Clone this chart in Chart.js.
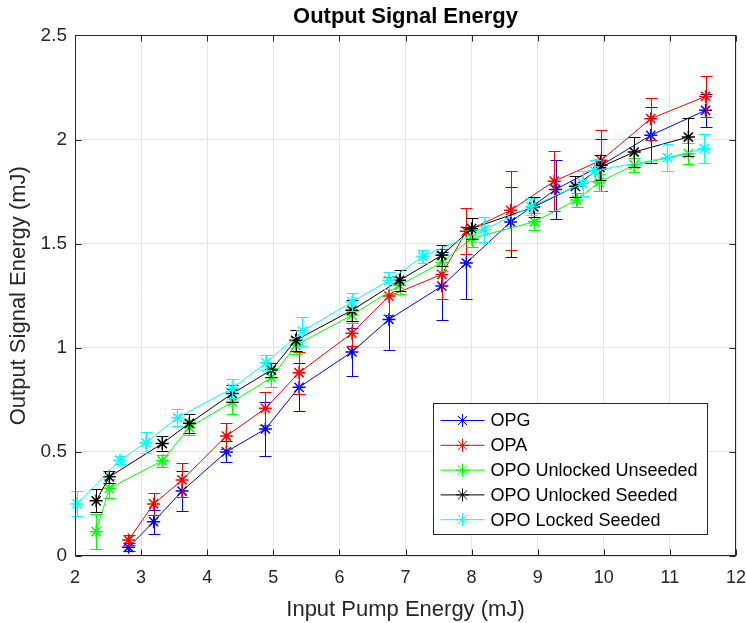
<!DOCTYPE html>
<html><head><meta charset="utf-8">
<script src="https://cdn.jsdelivr.net/npm/chart.js@4/dist/chart.umd.min.js"></script>
<style>html,body{margin:0;padding:0;background:#fff;} canvas{display:block;}</style>
</head><body>
<canvas id="c" width="746" height="623"></canvas>
<script>
const chartTitle = 'Output Signal Energy';
const xTitle = 'Input Pump Energy (mJ)';
const yTitle = 'Output Signal Energy (mJ)';
const xTicks = [2,3,4,5,6,7,8,9,10,11,12];
const yTicks = [0,0.5,1,1.5,2,2.5];

const seriesNames = ['OPG','OPA','OPO Unlocked Unseeded','OPO Unlocked Seeded','OPO Locked Seeded'];
const seriesColors = ['#0000ff','#ff0000','#00ff00','#000000','#00ffff'];

const opgX   = [2.81,3.19,3.62,4.29,4.88,5.39,6.19,6.75,7.55,7.92,8.59,9.27,9.96,10.71,11.54];
const opgY   = [0.042,0.165,0.312,0.50,0.61,0.81,0.98,1.136,1.296,1.407,1.604,1.76,1.876,2.02,2.14];
const opgErr = [0.02,0.058,0.096,0.05,0.13,0.115,0.117,0.148,0.164,0.175,0.17,0.14,0.125,0.135,0.08];

const opaX   = [2.81,3.19,3.62,4.29,4.88,5.39,6.19,6.75,7.55,7.92,8.59,9.25,9.96,10.71,11.54];
const opaY   = [0.077,0.25,0.365,0.576,0.709,0.88,1.07,1.248,1.352,1.56,1.66,1.80,1.90,2.10,2.207];
const opaErr = [0.025,0.052,0.08,0.064,0.08,0.1,0.06,0.09,0.12,0.11,0.19,0.145,0.147,0.1,0.097];

const uuX   = [2.32,2.52,3.32,3.73,4.38,4.97,5.34,6.19,6.91,7.55,8.0,8.95,9.59,9.93,10.46,11.28];
const uuY   = [0.117,0.325,0.457,0.617,0.74,0.856,1.012,1.157,1.30,1.41,1.525,1.605,1.71,1.795,1.878,1.932];
const uuErr = [0.085,0.045,0.03,0.035,0.06,0.045,0.04,0.04,0.04,0.04,0.04,0.04,0.035,0.04,0.035,0.05];

const usX   = [2.32,2.52,3.32,3.73,4.38,4.97,5.34,6.19,6.91,7.55,8.0,8.94,9.57,9.94,10.46,11.28];
const usY   = [0.265,0.38,0.54,0.637,0.78,0.893,1.036,1.18,1.324,1.444,1.572,1.676,1.775,1.866,1.94,2.012];
const usErr = [0.055,0.03,0.037,0.045,0.04,0.035,0.05,0.05,0.05,0.05,0.05,0.05,0.05,0.06,0.07,0.09];

const lsX   = [2.03,2.68,3.07,3.55,4.38,4.89,5.44,6.19,6.75,7.26,8.19,8.9,9.68,9.86,10.96,11.52];
const lsY   = [0.25,0.46,0.544,0.664,0.805,0.928,1.08,1.22,1.324,1.438,1.567,1.678,1.79,1.85,1.913,1.956];
const lsErr = [0.06,0.02,0.05,0.04,0.045,0.035,0.07,0.045,0.04,0.03,0.06,0.04,0.06,0.05,0.065,0.07];

const allX = [opgX, opaX, uuX, usX, lsX];
const allY = [opgY, opaY, uuY, usY, lsY];
const allErr = [opgErr, opaErr, uuErr, usErr, lsErr];

const FONT = "'Liberation Sans', Arial, Helvetica, sans-serif";
const AXCOL = '#262626';
const MARK_R = 6.5, MARK_W = 1.5;

const datasets = seriesNames.map((name, k) => ({
  label: name,
  data: allX[k].map((x, i) => ({x: x, y: allY[k][i]})),
  errors: allErr[k],
  borderColor: seriesColors[k],
  backgroundColor: seriesColors[k],
  borderWidth: 1,
  showLine: true,
  tension: 0,
  pointStyle: 'star',
  pointRadius: MARK_R,
  pointBorderWidth: MARK_W,
  pointHoverRadius: MARK_R,
  clip: false,
  order: 5 - k
}));

const errPlugin = {
  id: 'errbars',
  afterDatasetDraw(chart, args) {
    const ds = chart.data.datasets[args.index];
    if (!ds.errors) return;
    const ys = chart.scales.y;
    const ctx = chart.ctx;
    ctx.save();
    ctx.strokeStyle = ds.borderColor;
    ctx.lineWidth = 1;
    args.meta.data.forEach((pt, i) => {
      const v = ds.data[i].y, e = ds.errors[i];
      const x = Math.round(pt.x) + 0.5;
      const y1 = Math.round(ys.getPixelForValue(v - e)) + 0.5, y2 = Math.round(ys.getPixelForValue(v + e)) + 0.5;
      ctx.beginPath();
      ctx.moveTo(x, y1); ctx.lineTo(x, y2);
      ctx.moveTo(x - 6, y1); ctx.lineTo(x + 6, y1);
      ctx.moveTo(x - 6, y2); ctx.lineTo(x + 6, y2);
      ctx.stroke();
    });
    ctx.restore();
  }
};

const framePlugin = {
  id: 'frame',
  afterDraw(chart) {
    const ctx = chart.ctx, a = chart.chartArea;
    const xs = chart.scales.x, ys = chart.scales.y;
    const L = Math.round(a.left) + 0.5, R = Math.round(a.right) - 0.5;
    const T = Math.round(a.top) + 0.5, B = Math.round(a.bottom) - 0.5;
    ctx.save();
    ctx.strokeStyle = AXCOL;
    ctx.lineWidth = 1;
    ctx.strokeRect(L, T, R - L, B - T);
    ctx.beginPath();
    const tl = 6;
    xs.ticks.forEach(t => {
      const px = Math.round(xs.getPixelForValue(t.value)) + 0.5;
      ctx.moveTo(px, B); ctx.lineTo(px, B - tl);
      ctx.moveTo(px, T); ctx.lineTo(px, T + tl);
    });
    ys.ticks.forEach(t => {
      const py = Math.round(ys.getPixelForValue(t.value)) + 0.5;
      ctx.moveTo(L, py); ctx.lineTo(L + tl, py);
      ctx.moveTo(R, py); ctx.lineTo(R - tl, py);
    });
    ctx.stroke();
    ctx.restore();
  }
};

const legendPlugin = {
  id: 'boxlegend',
  afterDraw(chart) {
    const ctx = chart.ctx, a = chart.chartArea;
    const w = 274, h = 131;
    const left = Math.round(a.right - 29 - w) + 0.5;
    const top = Math.round(a.bottom - 22 - h) + 0.5;
    ctx.save();
    ctx.fillStyle = '#ffffff';
    ctx.fillRect(left, top, w, h);
    ctx.strokeStyle = AXCOL;
    ctx.lineWidth = 1;
    ctx.strokeRect(left, top, w, h);
    ctx.font = '18px ' + FONT;
    ctx.textBaseline = 'middle';
    ctx.textAlign = 'left';
    chart.data.datasets.forEach((ds, k) => {
      const cy = top + 17 + k * 24.8;
      ctx.strokeStyle = ds.borderColor;
      ctx.lineWidth = 1;
      ctx.beginPath();
      ctx.moveTo(left + 7, cy); ctx.lineTo(left + 51, cy);
      ctx.stroke();
      ctx.strokeStyle = ds.borderColor;
      Chart.helpers.drawPoint(ctx, {pointStyle: 'star', radius: MARK_R, borderWidth: MARK_W}, left + 29, cy);
      ctx.fillStyle = '#000000';
      ctx.fillText(ds.label, left + 57, cy + 1);
    });
    ctx.restore();
  }
};

new Chart(document.getElementById('c'), {
  type: 'scatter',
  data: { datasets: datasets },
  plugins: [errPlugin, framePlugin, legendPlugin],
  options: {
    responsive: false,
    animation: false,
    events: [],
    layout: { padding: { left: 0, right: 10, top: 0, bottom: 0 } },
    plugins: {
      legend: { display: false },
      tooltip: { enabled: false },
      title: {
        display: true,
        fullSize: false,
        text: chartTitle,
        color: '#000000',
        font: { family: FONT, size: 22, weight: 'bold' },
        padding: { top: 4, bottom: 5 }
      }
    },
    scales: {
      x: {
        type: 'linear',
        min: 2, max: 12,
        afterBuildTicks(s) { s.ticks = xTicks.map(v => ({value: v})); },
        afterFit(s) { s.height = 67; s.paddingLeft = 0; s.paddingRight = 0; },
        ticks: { color: AXCOL, font: { family: FONT, size: 18 }, padding: 11, maxRotation: 0,
                 callback: v => String(v) },
        grid: { color: '#e4e4e4', drawTicks: false, lineWidth: 1 },
        border: { display: false },
        title: { display: true, text: xTitle, color: AXCOL, font: { family: FONT, size: 22 }, padding: { top: 4, bottom: 0 } }
      },
      y: {
        type: 'linear',
        min: 0, max: 2.5,
        afterBuildTicks(s) { s.ticks = yTicks.map(v => ({value: v})); },
        afterFit(s) { s.width = 75; s.paddingTop = 0; s.paddingBottom = 0; },
        ticks: { color: AXCOL, font: { family: FONT, size: 19 }, padding: 8,
                 callback: v => String(v) },
        grid: { color: '#e4e4e4', drawTicks: false, lineWidth: 1 },
        border: { display: false },
        title: { display: true, text: yTitle, color: AXCOL, font: { family: FONT, size: 22 }, padding: { top: 6, bottom: 0 } }
      }
    }
  }
});
</script>
</body></html>
